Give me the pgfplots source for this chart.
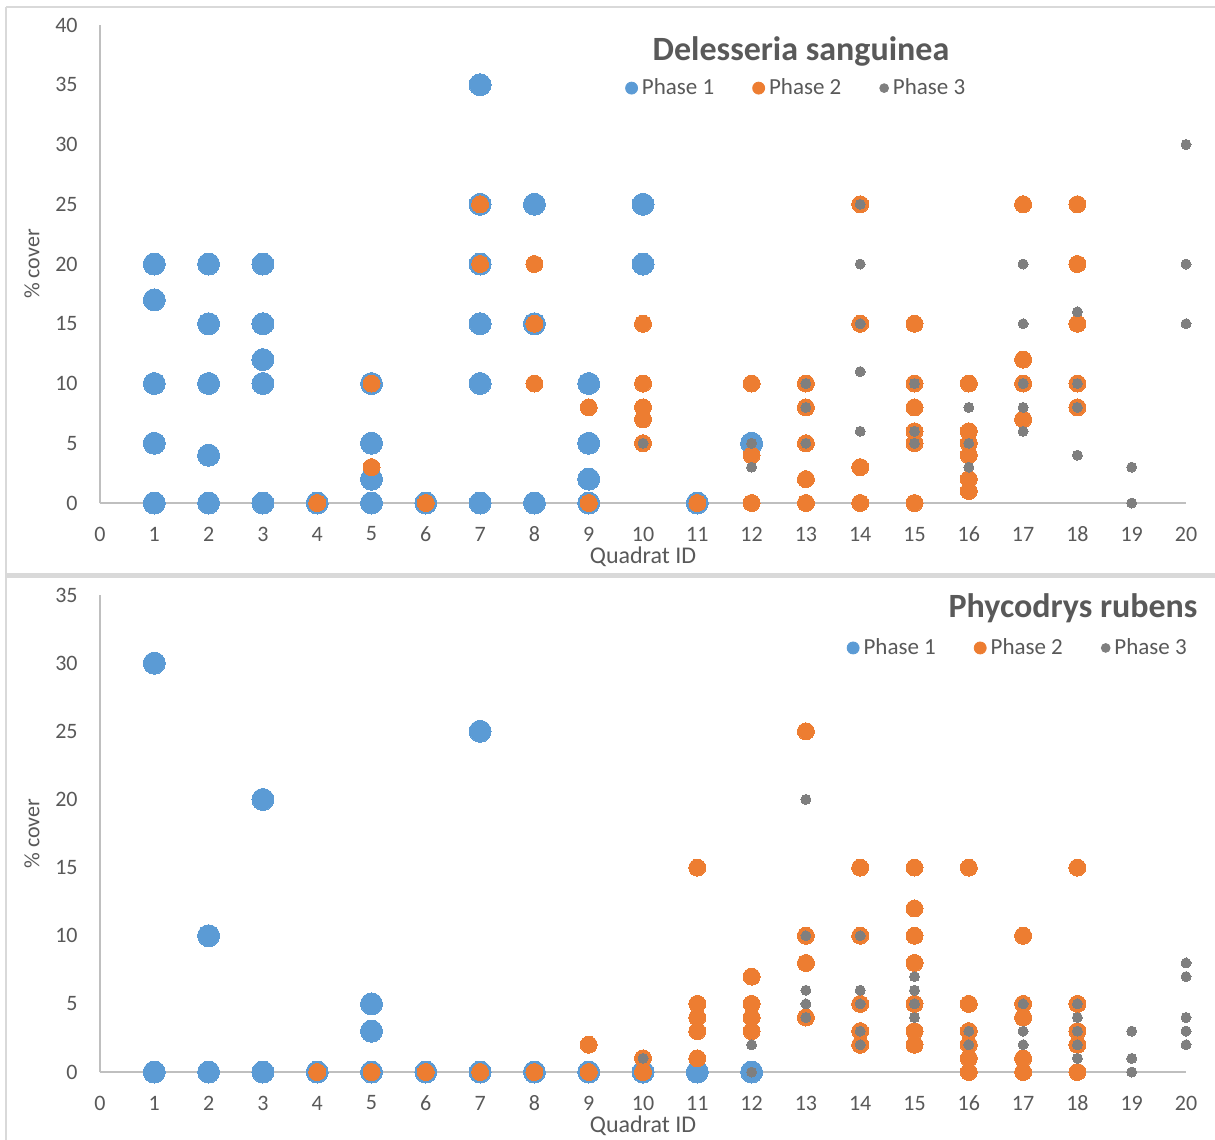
\documentclass[border=0pt]{standalone}
\usepackage{fontspec}
\setmainfont{Carlito}
\usepackage{pgfplots}
\pgfplotsset{compat=1.18}
\definecolor{pblue}{HTML}{5B9BD5}
\definecolor{porange}{HTML}{ED7D31}
\definecolor{pgrey}{HTML}{7F7F7F}
\definecolor{txt}{HTML}{595959}
\definecolor{axl}{HTML}{BFBFBF}
\definecolor{frm}{HTML}{D9D9D9}
\pgfplotsset{
  excel/.style={
    scale only axis, width=543pt,
    xmin=0, xmax=20, ymin=0,
    xtick={0,...,20}, ytick distance=5,
    axis x line*=bottom, axis y line*=left,
    axis line style={draw=axl, line width=0.6pt, -},
    major tick length=0pt,
    tick label style={font=\fontsize{11}{13}\selectfont, text=txt, inner sep=0pt},
    /pgf/number format/assume math mode=true,
    xticklabel style={anchor=center, yshift=-15.5pt},
    yticklabel style={anchor=east, xshift=-11pt},
    xlabel={Quadrat ID}, ylabel={\% cover},
    xlabel style={font=\fontsize{12}{14}\selectfont, text=txt, at={(axis description cs:0.5,-0.113)}, anchor=center, inner sep=0pt},
    ylabel style={font=\fontsize{11}{13}\selectfont, text=txt, at={(axis description cs:-0.0626,0.5)}, anchor=center},
    clip=false,
    legend style={draw=none, fill=none, anchor=center, legend columns=3,
      font=\fontsize{11.5}{14}\selectfont, text=txt,
      /tikz/every even column/.append style={column sep=17pt}},
  },
  p1/.style={only marks, mark=*, mark size=5.5pt, draw=pblue, fill=pblue, mark options={draw=pblue, fill=pblue, line width=0pt},
    legend image code/.code={\fill[pblue] (0pt,0pt) circle (3pt);}},
  p2/.style={only marks, mark=*, mark size=4.25pt, draw=porange, fill=porange, mark options={draw=porange, fill=porange, line width=0pt},
    legend image code/.code={\fill[porange] (0pt,0pt) circle (3pt);}},
  p3/.style={only marks, mark=*, mark size=2.5pt, draw=pgrey, fill=pgrey, mark options={draw=pgrey, fill=pgrey, line width=0pt},
    legend image code/.code={\fill[pgrey] (0pt,0pt) circle (2.2pt);}},
}
\begin{document}
\begin{tikzpicture}
\useasboundingbox (0,0) rectangle (607.5pt,-570pt);
\fill[white] (0,0) rectangle (607.5pt,-570pt);
\draw[frm, line width=0.75pt] (3pt,-3.5pt) -- (607.5pt,-3.5pt);
\draw[frm, line width=1.15pt] (3pt,-3.5pt) -- (3pt,-570pt);
\draw[frm, line width=2.15pt] (3pt,-287.75pt) -- (607.5pt,-287.75pt);

% ---------------- Delesseria sanguinea ----------------
\begin{axis}[excel, height=239pt, ymax=40,
  at={(50pt,-251.5pt)}, anchor=south west,
  legend style={at={(rel axis cs:0.642,0.868)}}]
\addplot[p1] coordinates {
(1,20)(1,17)(1,10)(1,5)(1,0)
(2,20)(2,15)(2,10)(2,4)(2,0)
(3,20)(3,15)(3,12)(3,10)(3,0)
(4,0)
(5,10)(5,5)(5,2)(5,0)
(6,0)
(7,35)(7,25)(7,20)(7,15)(7,10)(7,0)
(8,25)(8,15)(8,0)
(9,10)(9,5)(9,2)(9,0)
(10,25)(10,20)
(11,0)
(12,5)
};
\addlegendentry{Phase 1}
\addplot[p2] coordinates {
(4,0)(5,10)(5,3)(6,0)(7,25)(7,20)(8,20)(8,15)(8,10)(9,8)(9,0)
(10,15)(10,10)(10,8)(10,7)(10,5)(11,0)(12,10)(12,4)(12,0)
(13,10)(13,8)(13,5)(13,2)(13,0)(14,25)(14,15)(14,3)(14,0)
(15,15)(15,10)(15,8)(15,6)(15,5)(15,0)
(16,10)(16,6)(16,5)(16,4)(16,2)(16,1)
(17,25)(17,12)(17,10)(17,7)
(18,25)(18,20)(18,15)(18,10)(18,8)
};
\addlegendentry{Phase 2}
\addplot[p3] coordinates {
(10,5)(12,5)(12,3)(13,10)(13,8)(13,5)
(14,25)(14,20)(14,15)(14,11)(14,6)
(15,10)(15,6)(15,5)(16,8)(16,5)(16,3)
(17,20)(17,15)(17,10)(17,8)(17,6)
(18,16)(18,10)(18,8)(18,4)(19,3)(19,0)
(20,30)(20,20)(20,15)
};
\addlegendentry{Phase 3}
\node[font=\bfseries\fontsize{17}{20}\selectfont, text=txt] at (rel axis cs:0.6455,0.944) {Delesseria sanguinea};
\end{axis}

% ---------------- Phycodrys rubens ----------------
\begin{axis}[excel, height=238.5pt, ymax=35,
  at={(50pt,-536pt)}, anchor=south west,
  legend style={at={(rel axis cs:0.846,0.889)}}]
\addplot[p1] coordinates {
(1,30)(1,0)(2,10)(2,0)(3,20)(3,0)(4,0)(5,5)(5,3)(5,0)(6,0)
(7,25)(7,0)(8,0)(9,0)(10,0)(11,0)(12,0)
};
\addlegendentry{Phase 1}
\addplot[p2] coordinates {
(4,0)(5,0)(6,0)(7,0)(8,0)(9,2)(9,0)(10,1)(10,0)
(11,15)(11,5)(11,4)(11,3)(11,1)
(12,7)(12,5)(12,4)(12,3)
(13,25)(13,10)(13,8)(13,4)
(14,15)(14,10)(14,5)(14,3)(14,2)
(15,15)(15,12)(15,10)(15,8)(15,5)(15,3)(15,2)
(16,15)(16,5)(16,3)(16,2)(16,1)(16,0)
(17,10)(17,5)(17,4)(17,1)(17,0)
(18,15)(18,5)(18,3)(18,2)(18,0)
};
\addlegendentry{Phase 2}
\addplot[p3] coordinates {
(10,1)(12,2)(12,0)(13,20)(13,10)(13,6)(13,5)(13,4)
(14,10)(14,6)(14,5)(14,3)(14,2)
(15,7)(15,6)(15,5)(15,4)(16,3)(16,2)
(17,5)(17,3)(17,2)(18,5)(18,4)(18,3)(18,2)(18,1)
(19,3)(19,1)(19,0)(20,8)(20,7)(20,4)(20,3)(20,2)
};
\addlegendentry{Phase 3}
\node[font=\bfseries\fontsize{17}{20}\selectfont, text=txt] at (rel axis cs:0.896,0.973) {Phycodrys rubens};
\end{axis}
\end{tikzpicture}
\end{document}
